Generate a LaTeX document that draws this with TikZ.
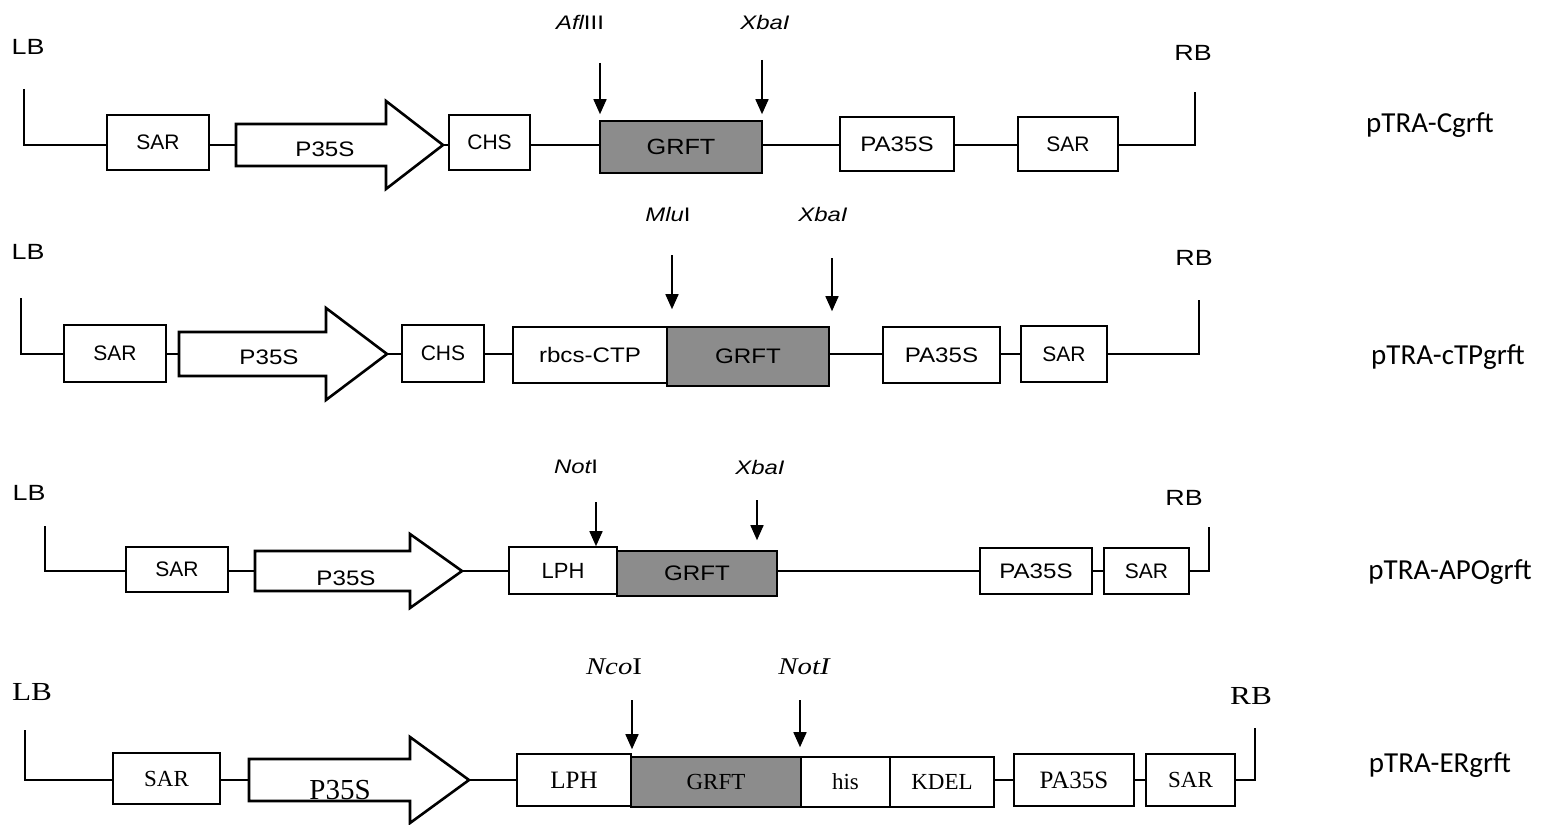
\documentclass[tikz,border=0pt]{standalone}
\usepackage{fontspec}
\setmainfont{Liberation Sans}
\newfontfamily\arialf{Liberation Sans}
\newfontfamily\arialw[FakeStretch=1.15]{Liberation Sans}
\newfontfamily\arialx[FakeStretch=1.22]{Liberation Sans}
\newfontfamily\tnrf{Liberation Serif}
\newfontfamily\tnrx[FakeStretch=1.2]{Liberation Serif}
\newfontfamily\calibf{Carlito}
\usetikzlibrary{arrows.meta,fit}
\definecolor{grftgray}{RGB}{140,140,140}
\tikzset{
 box/.style={draw, line width=0.8pt, inner sep=0pt, fill=white},
 gbox/.style={box, fill=grftgray},
 sa/.style={font=\arialf\fontsize{10.5}{12}\selectfont},
 sal/.style={font=\arialf\fontsize{11}{13}\selectfont},
 sw/.style={font=\arialw\fontsize{10.5}{12}\selectfont},
 swl/.style={font=\arialw\fontsize{11}{13}\selectfont},
 lbr/.style={font=\arialx\fontsize{11}{13}\selectfont},
 se/.style={font=\tnrf\fontsize{11.5}{13}\selectfont},
 sel/.style={font=\tnrf\fontsize{12.5}{15}\selectfont},
 sep/.style={font=\tnrf\fontsize{14.5}{17}\selectfont},
 lbrs/.style={font=\tnrx\fontsize{13}{15}\selectfont},
 bb/.style={line width=0.8pt},
 prom/.style={line width=1.3pt, fill=white, line join=miter},
 enz/.style={line width=0.8pt, -{Triangle[width=6.5pt,length=7.5pt]}},
 elab/.style={font=\arialx\fontsize{9.8}{11}\selectfont},
 elabs/.style={font=\tnrx\fontsize{12}{14}\selectfont},
 cname/.style={font=\calibf\fontsize{14.5}{17}\selectfont},
}
\newcommand{\promoter}[7]{%
 \draw[prom] (#2,#5-#6) -- (#3,#5-#6) -- (#3,#5-#7) -- (#4,#5) -- (#3,#5+#7) -- (#3,#5+#6) -- (#2,#5+#6) -- cycle;
 \coordinate (#1tail) at (#2,#5);
 \coordinate (#1tip) at (#4,#5);
}
\begin{document}
\begin{tikzpicture}[x=0.5pt,y=-0.5pt]
\useasboundingbox (0,0) rectangle (1546,824);

% ---------------- Row 1 ----------------
\coordinate (b1) at (0,145);
\coordinate (lb1) at (24,89);
\coordinate (rb1) at (1195,92);
\node[lbr] (lbt1) at (28,47) {LB};
\node[lbr] (rbt1) at (1193,53) {RB};
\node[box,fit={(107,115)(209,170)},label={[sa]center:SAR}] (sar1a) {};
\node[box,fit={(449,115)(530,170)},label={[sa]center:CHS}] (chs1) {};
\node[gbox,fit={(600,121)(762,173)},label={[swl]center:GRFT}] (grft1) {};
\node[box,fit={(840,117)(954,171)},label={[sw]center:PA35S}] (pa1) {};
\node[box,fit={(1018,117)(1118,171)},label={[sa]center:SAR}] (sar1b) {};
\draw[bb] (lb1) |- (sar1a.west |- b1);
\draw[bb] (sar1a.east |- b1) -- (236,145);
\promoter{p1}{236}{386}{443}{145}{21}{44}
\node[sw] (p1t) at (325,149) {P35S};
\draw[bb] (p1tip) -- (chs1.west |- b1);
\draw[bb] (chs1.east |- b1) -- (grft1.west |- b1);
\draw[bb] (grft1.east |- b1) -- (pa1.west |- b1);
\draw[bb] (pa1.east |- b1) -- (sar1b.west |- b1);
\draw[bb] (sar1b.east |- b1) -| (rb1);
\node[elab] (e1at) at (580,22) {\itshape Afl\upshape III};
\node[elab] (e1bt) at (765,22) {\itshape XbaI};
\coordinate (e1a) at (600,63);
\coordinate (e1b) at (762,60);
\draw[enz, shorten >=3pt] (e1a) -- (e1a |- grft1.north);
\draw[enz, shorten >=3pt] (e1b) -- (e1b |- grft1.north);
\node[cname] (n1) at (1430,125) {pTRA-Cgrft};

% ---------------- Row 2 ----------------
\coordinate (b2) at (0,354);
\coordinate (lb2) at (21,298);
\coordinate (rb2) at (1199,300);
\node[lbr] (lbt2) at (28,252) {LB};
\node[lbr] (rbt2) at (1194,258) {RB};
\node[box,fit={(64,325)(166,382)},label={[sa]center:SAR}] (sar2a) {};
\node[box,fit={(402,325)(484,382)},label={[sa]center:CHS}] (chs2) {};
\node[box,fit={(513,327)(667,383)},label={[sw]center:rbcs-CTP}] (rbcs2) {};
\node[gbox,fit={(667,327)(829,386)},label={[sw]center:GRFT}] (grft2) {};
\node[box,fit={(883,327)(1000,383)},label={[sw]center:PA35S}] (pa2) {};
\node[box,fit={(1021,326)(1107,382)},label={[sa]center:SAR}] (sar2b) {};
\draw[bb] (lb2) |- (sar2a.west |- b2);
\promoter{p2}{179}{326}{387}{354}{22}{46}
\draw[bb] (sar2a.east |- b2) -- (p2tail);
\node[sw] (p2t) at (269,357) {P35S};
\draw[bb] (p2tip) -- (chs2.west |- b2);
\draw[bb] (chs2.east |- b2) -- (rbcs2.west |- b2);
\draw[bb] (grft2.east |- b2) -- (pa2.west |- b2);
\draw[bb] (pa2.east |- b2) -- (sar2b.west |- b2);
\draw[bb] (sar2b.east |- b2) -| (rb2);
\node[elab] (e2at) at (668,214) {\itshape Mlu\upshape I};
\node[elab] (e2bt) at (823,214) {\itshape XbaI};
\coordinate (e2a) at (672,255);
\coordinate (e2b) at (832,258);
\draw[enz, shorten >=8.5pt] (e2a) -- (e2a |- grft2.north);
\draw[enz, shorten >=7.5pt] (e2b) -- (e2b |- grft2.north);
\node[cname] (n2) at (1448,357) {pTRA-cTPgrft};

% ---------------- Row 3 ----------------
\coordinate (b3) at (0,571);
\coordinate (lb3) at (45,526);
\coordinate (rb3) at (1209,527);
\node[lbr] (lbt3) at (29,493) {LB};
\node[lbr] (rbt3) at (1184,498) {RB};
\node[box,fit={(126,547)(228,592)},label={[sa]center:SAR}] (sar3a) {};
\node[box,fit={(509,547)(617,594)},label={[sal]center:LPH}] (lph3) {};
\node[gbox,fit={(617,551)(777,596)},label={[sw]center:GRFT}] (grft3) {};
\node[box,fit={(980,548)(1092,594)},label={[sw]center:PA35S}] (pa3) {};
\node[box,fit={(1104,548)(1189,594)},label={[sa]center:SAR}] (sar3b) {};
\draw[bb] (lb3) |- (sar3a.west |- b3);
\promoter{p3}{255}{410}{462}{571}{20}{37}
\draw[bb] (sar3a.east |- b3) -- (p3tail);
\node[sw] (p3t) at (346,578) {P35S};
\draw[bb] (p3tip) -- (lph3.west |- b3);
\draw[bb] (grft3.east |- b3) -- (pa3.west |- b3);
\draw[bb] (pa3.east |- b3) -- (sar3b.west |- b3);
\draw[bb] (sar3b.east |- b3) -| (rb3);
\node[elab] (e3at) at (576,467) {\itshape Not\upshape I};
\node[elab] (e3bt) at (760,467) {\itshape XbaI};
\coordinate (e3a) at (596,502);
\coordinate (e3b) at (757,500);
\draw[enz] (e3a) -- (e3a |- lph3.north);
\draw[enz, shorten >=5pt] (e3b) -- (e3b |- grft3.north);
\node[cname] (n3) at (1450,572) {pTRA-APOgrft};

% ---------------- Row 4 ----------------
\coordinate (b4) at (0,780);
\coordinate (lb4) at (25,730);
\coordinate (rb4) at (1255,728);
\node[lbrs] (lbt4) at (32,692) {LB};
\node[lbrs] (rbt4) at (1251,696) {RB};
\node[box,fit={(113,753)(220,804)},label={[se]center:SAR}] (sar4a) {};
\node[box,fit={(517,754)(631,806)},label={[sel]center:LPH}] (lph4) {};
\node[gbox,fit={(631,757)(801,807)},label={[se]center:GRFT}] (grft4) {};
\node[box,fit={(801,757)(890,807)},label={[se]center:his}] (his4) {};
\node[box,fit={(890,757)(994,807)},label={[se]center:KDEL}] (kdel4) {};
\node[box,fit={(1014,754)(1134,806)},label={[sel]center:PA35S}] (pa4) {};
\node[box,fit={(1146,754)(1235,806)},label={[se]center:SAR}] (sar4b) {};
\draw[bb] (lb4) |- (sar4a.west |- b4);
\promoter{p4}{249}{410}{469}{780}{21}{43}
\draw[bb] (sar4a.east |- b4) -- (p4tail);
\node[sep] (p4t) at (340,790) {P35S};
\draw[bb] (p4tip) -- (lph4.west |- b4);
\draw[bb] (kdel4.east |- b4) -- (pa4.west |- b4);
\draw[bb] (pa4.east |- b4) -- (sar4b.west |- b4);
\draw[bb] (sar4b.east |- b4) -| (rb4);
\node[elabs] (e4at) at (614,667) {\itshape Nco\upshape I};
\node[elabs] (e4bt) at (804,667) {\itshape NotI};
\coordinate (e4a) at (632,700);
\coordinate (e4b) at (800,700);
\draw[enz, shorten >=3.5pt] (e4a) -- (e4a |- grft4.north);
\draw[enz, shorten >=4.5pt] (e4b) -- (e4b |- grft4.north);
\node[cname] (n4) at (1440,765) {pTRA-ERgrft};
\end{tikzpicture}
\end{document}
